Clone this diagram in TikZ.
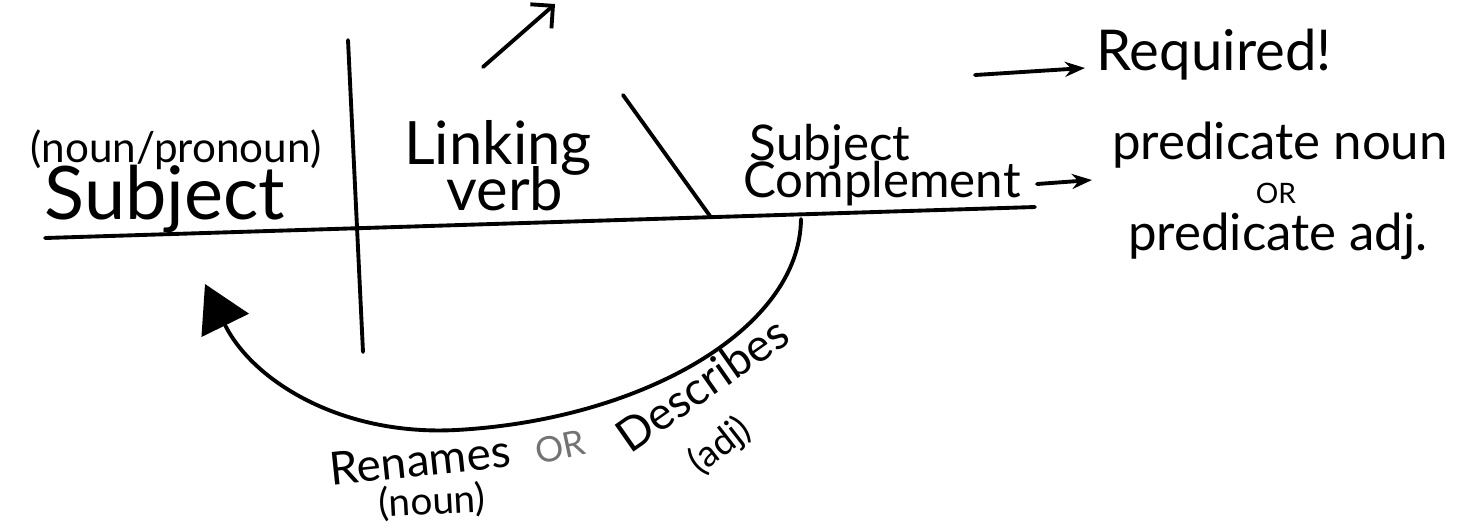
\documentclass[tikz,border=0pt]{standalone}
\usepackage{fontspec}
\setmainfont{Lato}
\usetikzlibrary{positioning,arrows.meta}

\begin{document}
\begin{tikzpicture}[x=0.01cm,y=-0.01cm,
  every node/.style={inner sep=0pt, text=black},
  line/.style={line width=1.1pt, line cap=round}]
  \useasboundingbox (0,0) rectangle (1469,529);
  % base line, divider and slant
  \coordinate (l0) at (45,238);
  \coordinate (l1) at (1035,207);
  \coordinate (v0) at (348,40);
  \coordinate (v1) at (363,352);
  \coordinate (s0) at (623,95);
  \coordinate (s1) at (710,216);
  \draw[line] (l0) -- (l1);
  \draw[line] (v0) -- (v1);
  \draw[line] (s0) -- (s1);
  % words on the line
  \node (np) at (176,150) {\fontsize{12}{14}\selectfont (noun/pronoun)};
  \node (subj) at (165,199) {\fontsize{21}{24}\selectfont Subject};
  \node (link) at (498,148) {\fontsize{17}{20}\selectfont Linking};
  \node (verb) at (505,189) {\fontsize{17}{20}\selectfont verb};
  \node (sc1) at (830,147) {\fontsize{14}{16}\selectfont Subject};
  \node (sc2) at (882,184) {\fontsize{14}{16}\selectfont Complement};
  \coordinate (a0) at (483,67);
  \coordinate (a1) at (555,4);
  \draw[line,-{Straight Barb[length=1.6mm]}] (a0) -- (a1);
  % notes on the right
  \node (req) at (1214,55) {\fontsize{16}{18}\selectfont Required!};
  \coordinate (r0) at (975,75);
  \coordinate (r1) at (1085,68);
  \draw[line,-{Stealth[length=2mm]}] (r0) -- (r1);
  \node (pn) at (1280,145) {\fontsize{14.5}{17}\selectfont predicate noun};
  \node (pa) at (1278,236) {\fontsize{14.5}{17}\selectfont predicate adj.};
  \node (or1) at (1276,193) {\fontsize{8}{9}\selectfont OR};
  \coordinate (p0) at (1037,184);
  \coordinate (p1) at (1092,180);
  \draw[line,-{Stealth[length=2mm]}] (p0) -- (p1);
  % arrow back to the subject
  \coordinate (c0) at (801,219);
  \coordinate (c1) at (456,430);
  \coordinate (c2) at (205,284);
  \draw[line,-{Triangle[length=4.6mm,width=5.2mm]}] (c0) .. controls (800,330) and (640,420) .. (c1)
    .. controls (340,436) and (252,380) .. (c2);
  \node[rotate=6] (ren) at (420,460) {\fontsize{13}{15}\selectfont Renames};
  \node[rotate=3] (rn) at (432,502) {\fontsize{11}{13}\selectfont (noun)};
  \node[rotate=12,text=black!55] (or2) at (560,447) {\fontsize{10}{12}\selectfont OR};
  \node[rotate=35] (desc) at (702,384) {\fontsize{13}{15}\selectfont Describes};
  \node[rotate=38] (adj) at (720,446) {\fontsize{10.5}{12}\selectfont (adj)};
\end{tikzpicture}
\end{document}
